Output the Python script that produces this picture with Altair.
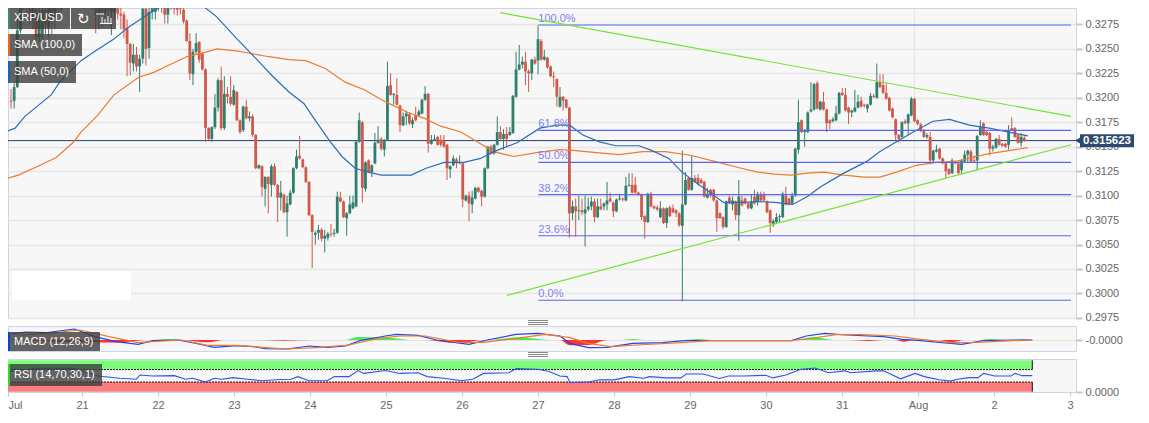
import altair as alt
import pandas as pd

# Hourly candles, (open, high, low, close) in 1e-4 USD. Hour 0 = 20 Jul 00:00
jul20 = [(3197,3209,3189,3196),(3197,3215,3189,3211),(3211,3280,3210,3269),(3269,3310,3266,3298),(3293,3320,3290,3305),(3305,3315,3285,3292),(3292,3305,3275,3280),(3280,3300,3270,3292),(3290,3295,3258,3262),(3262,3300,3257,3280),(3265,3305,3260,3290),(3290,3310,3265,3275),(3272,3310,3262,3295),(3295,3310,3265,3280),(3280,3315,3270,3300),(3300,3310,3285,3295),(3290,3305,3288,3300),(3306,3315,3300,3310),(3310,3320,3302,3305),(3305,3318,3300,3312),(3312,3322,3303,3308),(3308,3320,3301,3315),(3315,3325,3305,3310),(3310,3322,3303,3316)]
jul21 = [(3316,3325,3304,3308),(3308,3318,3302,3312),(3312,3320,3290,3297),(3298,3310,3266,3284),(3284,3310,3270,3298),(3298,3305,3272,3287),(3287,3305,3275,3296),(3296,3303,3278,3290),(3288,3303,3264,3297),(3288,3300,3280,3296),(3296,3299,3280,3286),(3286,3295,3270,3284),(3285,3288,3261,3270),(3271,3280,3222,3255),(3255,3256,3223,3236),(3235,3255,3227,3244),(3244,3252,3227,3232),(3232,3244,3206,3240),(3240,3298,3235,3291),(3291,3295,3233,3250),(3251,3294,3240,3288),(3288,3310,3280,3302),(3288,3302,3280,3298),(3300,3305,3289,3297)]
jul22 = [(3298,3302,3287,3293),(3295,3298,3276,3285),(3285,3300,3276,3297),(3296,3300,3290,3298),(3295,3300,3285,3291),(3295,3298,3284,3290),(3294,3297,3285,3291),(3290,3292,3276,3278),(3279,3280,3257,3258),(3258,3266,3218,3225),(3224,3250,3213,3247),(3247,3266,3245,3256),(3257,3258,3236,3239),(3245,3247,3228,3229),(3229,3230,3155,3169),(3169,3170,3157,3158),(3158,3171,3155,3170),(3170,3204,3168,3190),(3190,3220,3186,3218),(3218,3232,3167,3169),(3169,3222,3167,3204),(3204,3211,3194,3201),(3201,3222,3192,3194),(3193,3213,3192,3208)]
jul23 = [(3206,3207,3176,3177),(3177,3178,3163,3165),(3167,3192,3165,3191),(3191,3198,3178,3179),(3179,3186,3176,3181),(3181,3183,3160,3162),(3162,3163,3127,3128),(3128,3132,3127,3131),(3130,3131,3099,3109),(3107,3120,3089,3119),(3119,3120,3082,3112),(3111,3132,3099,3130),(3130,3133,3110,3111),(3111,3112,3073,3098),(3098,3115,3085,3103),(3101,3102,3082,3083),(3083,3100,3058,3092),(3091,3106,3090,3103),(3103,3129,3102,3128),(3128,3147,3127,3140),(3141,3161,3137,3138),(3137,3138,3128,3129),(3129,3130,3113,3114),(3114,3115,3079,3080)]
jul24 = [(3080,3081,3026,3063),(3060,3064,3050,3062),(3062,3070,3055,3065),(3065,3067,3053,3056),(3056,3065,3042,3059),(3057,3063,3054,3061),(3061,3071,3058,3060),(3061,3066,3058,3062),(3062,3104,3061,3099),(3098,3104,3093,3094),(3094,3095,3077,3078),(3077,3083,3059,3082),(3082,3100,3081,3091),(3087,3100,3086,3093),(3089,3156,3088,3155),(3155,3185,3154,3177),(3175,3176,3093,3108),(3107,3135,3104,3134),(3136,3137,3123,3124),(3124,3132,3119,3131),(3133,3164,3132,3154),(3154,3171,3153,3157),(3158,3160,3146,3148),(3147,3158,3140,3157)]
jul25 = [(3157,3237,3156,3212),(3213,3225,3202,3203),(3203,3205,3193,3204),(3203,3220,3192,3193),(3192,3193,3165,3172),(3172,3185,3171,3181),(3181,3187,3172,3184),(3183,3185,3172,3174),(3173,3180,3169,3177),(3182,3191,3176,3177),(3182,3188,3181,3186),(3184,3199,3183,3198),(3198,3212,3197,3204),(3204,3205,3144,3153),(3153,3162,3152,3157),(3157,3162,3156,3158),(3160,3161,3151,3152),(3157,3162,3150,3152),(3157,3162,3149,3150),(3152,3153,3116,3128),(3127,3131,3118,3130),(3131,3141,3130,3138),(3137,3139,3128,3133),(3133,3141,3132,3134)]
jul26 = [(3133,3134,3088,3096),(3095,3101,3094,3100),(3100,3104,3074,3092),(3091,3105,3082,3098),(3097,3109,3096,3108),(3108,3109,3103,3104),(3105,3106,3089,3099),(3099,3129,3098,3128),(3128,3151,3127,3150),(3150,3152,3142,3143),(3143,3153,3142,3152),(3152,3181,3151,3165),(3165,3171,3157,3158),(3158,3168,3147,3163),(3163,3170,3150,3158),(3162,3170,3161,3165),(3164,3203,3163,3202),(3201,3247,3200,3229),(3229,3254,3228,3234),(3234,3242,3230,3237),(3237,3247,3213,3227),(3227,3229,3206,3225),(3225,3240,3218,3239),(3239,3242,3234,3235)]
jul27 = [(3238,3274,3224,3260),(3258,3260,3238,3239),(3239,3249,3238,3242),(3241,3242,3230,3231),(3232,3233,3221,3222),(3222,3227,3211,3221),(3219,3220,3191,3201),(3191,3211,3190,3201),(3201,3202,3187,3197),(3198,3199,3189,3190),(3190,3191,3057,3082),(3082,3095,3075,3089),(3089,3097,3058,3084),(3084,3100,3075,3085),(3085,3097,3080,3083),(3082,3100,3048,3086),(3086,3098,3084,3089),(3089,3099,3085,3094),(3094,3097,3073,3078),(3078,3097,3077,3089),(3089,3097,3085,3086),(3089,3093,3085,3092),(3091,3114,3085,3095),(3097,3103,3093,3094)]
jul28 = [(3093,3094,3078,3084),(3084,3097,3083,3096),(3096,3102,3095,3097),(3097,3098,3094,3096),(3095,3119,3094,3110),(3110,3123,3109,3111),(3111,3123,3102,3103),(3111,3119,3102,3103),(3103,3104,3100,3101),(3101,3102,3075,3078),(3079,3080,3056,3073),(3073,3103,3072,3102),(3102,3104,3088,3089),(3089,3090,3086,3087),(3088,3090,3084,3086),(3078,3094,3077,3087),(3087,3088,3071,3072),(3072,3088,3067,3087),(3088,3090,3078,3079),(3087,3091,3082,3083),(3085,3086,3078,3082),(3082,3083,3068,3070),(3069,3146,2992,3091),(3091,3124,3090,3116)]
jul29 = [(3118,3119,3105,3106),(3106,3141,3105,3118),(3118,3121,3113,3114),(3118,3122,3110,3112),(3116,3118,3112,3113),(3114,3115,3098,3099),(3098,3108,3097,3102),(3106,3107,3098,3100),(3106,3107,3094,3095),(3095,3096,3063,3077),(3082,3083,3076,3077),(3078,3079,3066,3068),(3068,3095,3067,3094),(3098,3100,3091,3092),(3091,3099,3085,3095),(3094,3095,3075,3080),(3080,3116,3054,3099),(3095,3100,3089,3090),(3097,3098,3091,3092),(3092,3093,3086,3087),(3087,3101,3086,3094),(3099,3106,3091,3092),(3094,3104,3090,3102),(3101,3104,3094,3095)]
jul30 = [(3101,3104,3094,3095),(3094,3095,3082,3083),(3085,3086,3062,3072),(3071,3076,3068,3074),(3073,3082,3072,3078),(3078,3081,3072,3079),(3078,3104,3077,3102),(3100,3109,3090,3091),(3097,3098,3090,3091),(3092,3103,3091,3100),(3100,3149,3099,3148),(3147,3198,3143,3175),(3177,3178,3164,3165),(3165,3168,3150,3167),(3165,3186,3164,3185),(3186,3216,3185,3188),(3188,3215,3187,3214),(3215,3217,3188,3189),(3188,3197,3187,3196),(3196,3206,3187,3188),(3188,3189,3165,3174),(3177,3178,3168,3174),(3176,3180,3175,3178),(3177,3192,3176,3184)]
jul31 = [(3184,3206,3183,3205),(3205,3210,3202,3203),(3203,3210,3186,3187),(3190,3191,3173,3185),(3185,3188,3180,3187),(3186,3208,3185,3190),(3190,3203,3189,3196),(3197,3201,3190,3191),(3193,3194,3190,3192),(3189,3194,3185,3193),(3193,3205,3192,3202),(3202,3204,3200,3201),(3200,3235,3199,3216),(3216,3224,3210,3211),(3213,3224,3204,3205),(3205,3215,3198,3199),(3200,3201,3186,3187),(3189,3190,3179,3180),(3178,3179,3157,3162),(3162,3163,3154,3158),(3160,3176,3159,3175),(3176,3178,3173,3174),(3174,3184,3162,3183),(3182,3201,3181,3199)]
aug01 = [(3199,3200,3175,3176),(3177,3178,3172,3173),(3173,3174,3165,3167),(3167,3168,3159,3160),(3160,3164,3158,3162),(3160,3165,3132,3136),(3136,3147,3133,3146),(3145,3152,3144,3147),(3148,3149,3137,3138),(3138,3139,3132,3133),(3133,3134,3118,3125),(3127,3128,3121,3122),(3123,3138,3122,3136),(3134,3136,3132,3133),(3133,3134,3122,3123),(3126,3137,3122,3136),(3135,3146,3134,3142),(3142,3147,3134,3146),(3145,3147,3134,3135),(3136,3141,3134,3135),(3136,3162,3126,3161),(3162,3177,3161,3170),(3174,3175,3161,3162),(3165,3166,3161,3162)]
aug02 = [(3164,3165,3141,3148),(3148,3152,3145,3150),(3149,3159,3148,3158),(3158,3162,3151,3152),(3153,3154,3150,3151),(3153,3154,3149,3150),(3152,3172,3147,3166),(3169,3180,3166,3167),(3169,3170,3159,3160),(3162,3163,3153,3154),(3154,3164,3150,3160),(3159,3162,3155,3156),(3156,3157,3156,3156)]

sma50_h = [-1.9,1.3,4.4,8.6,12.8,15.5,22.3,26.5,32.8,37,43.4,48.6,53.9,60.7,65.5,71.8,78.1,83.4,88.6,93.4,97,101.8,105.5,109.7,113.9,118.1,122.3,127.6,132.3,138.1,144.4,149.7,153.9,161.3,168.6,173.9,178.1,182.3,187.6,192.8,200.2,204.4,209.7,213.9,218.1,223.4,227.1,233.9,238.1,243.4,249.2,253.9,258.1,265.5,272.8,277,282.3,287.6,293.9,299.2,305.5,311.8,318.1,324.1]
sma50_v = [3165,3169,3181,3192,3203,3216,3238,3247,3260,3271,3285,3295,3297,3295,3283,3261,3240,3222,3206,3194,3177,3155,3140,3128,3124,3121,3121,3121,3128,3134,3134,3138,3145,3154,3169,3172,3172,3162,3155,3151,3151,3146,3138,3124,3114,3102,3093,3093,3094,3093,3091,3099,3109,3123,3135,3145,3155,3165,3176,3178,3172,3169,3165,3161]
sma100_h = [-1.9,2.3,8.6,14.4,19.7,22.3,27.6,32.8,40.7,45.5,50.7,56,61.3,65.5,71.8,77,82.3,88.6,93.9,100.2,106.5,112.8,118.1,121.3,126.5,131.8,137,143.4,148.6,153.9,160.2,167.6,174.9,180.2,186.5,193.9,201.3,208.6,217,225.5,232.8,238.1,243.4,248.6,253.9,259.2,265.5,271.8,277,282.3,288.6,295,301.3,307.6,311.8,318.1,324.1]
sma100_v = [3117,3121,3130,3139,3154,3165,3182,3203,3221,3226,3234,3242,3246,3250,3248,3245,3242,3239,3238,3230,3216,3208,3198,3193,3185,3179,3171,3165,3155,3145,3140,3144,3147,3146,3144,3142,3145,3145,3141,3134,3128,3124,3122,3121,3123,3124,3121,3119,3119,3124,3131,3134,3135,3140,3143,3146,3149]

fib_levels = [3274.4,3166.7,3134.0,3101.0,3059.0,2993.0]
fib_names = ["100.0%","61.8%","50.0%","38.2%","23.6%","0.0%"]
fib_start, chart_end, last_hour = 168.1, 337.9, 324.1
trend_hours = [156.0,337.9]
trend_upper = [3287,3181]
trend_lower_hours = [158.1,337.9]
trend_lower = [2998,3152]
last_price = 0.315623
price_ticks = [0.2975,0.3,0.3025,0.305,0.3075,0.31,0.3125,0.315,0.3175,0.32,0.3225,0.325,0.3275]

macd_blue_h = [1.5,6.1,13,21.6,28,34.8,41.7,46.3,54.4,60.1,65.8,72.7,78.5,81.9,88.8,95.7,101.4,107.2,111.8,119.8,123.2,130.1,135.9,146.2,152,161.1,168,174.9,178.1,183.9,189.8,197.9,207.3,214.2,222.4,232.9,248.1,252.7,258.6,265.6,277.2,283.1,288.9,301.7,308.7,318,324.1]
macd_blue_v = [18,24,22,33,10,-5,-13,-2,0,-10,-22,-17,-20,-26,-27,-18,-22,-18,-2,12,17,14,0,-13,0,17,20,12,-10,-23,-22,-10,-8,-2,-2,-2,-2,12,20,15,10,2,-2,-13,-2,0,0]
macd_orange_h = [5,13,23.4,32.5,41.7,46.3,55.5,63.5,72.7,80.8,88.8,99.1,108.3,117.5,124.4,132.4,142.8,150.8,161.1,170.3,178.1,183.9,190.9,199.1,213.1,222.4,248.1,255.1,262.1,270.2,280.7,288.9,298.2,306.4,318,324.1]
macd_orange_v = [15,20,30,10,-8,-5,0,-16,-16,-22,-27,-22,-15,5,12,12,-7,-7,5,17,7,-10,-20,-15,-8,-2,-2,6,16,16,12,2,-8,-7,-2,0]
hist_h = [1,3,5,15,25.7,36,44,46.3,50.9,55.5,63.5,69,78.5,87.7,96.8,107.2,111,122,127.8,132.4,142.8,150.8,152,162,171.5,175,178,184,190,194.4,198,201.4,214.2,218.3,223,249.2,255,261.5,266.7,272.5,277,280.7,283.6,286.5,294.7,298,302.9,307.5,311,315.1,318.6,321,324]
hist_v = [0,3,0,-5,-6,-8,0,0,3,0,-7,0,0,-2,0,0,9,6,0,0,-10,0,0,8,0,0,-16,-15,0,0,3,0,0,3,0,0,9,0,0,-3,0,0,-5,0,0,-7,0,0,3,0,0,2,0]

rsi_h = [0.7,1.5,9.6,21,29,36,41.2,42.3,46.3,53.2,56.7,59,63,65.8,68.1,71.6,76.2,80.8,86.5,90,92.2,95.7,101.4,103.7,108.3,111.2,112.9,119.8,124.4,130.1,133,138.2,143.9,147.4,150.8,158.8,161.1,168,171.5,174.9,177.2,178.1,183.9,187.4,192.1,196.8,201.4,203.2,208.4,213.1,214.8,220.1,225.3,228.2,232.9,239.9,242.2,246.3,251,255.6,259.7,265,266.7,274.9,277.2,282.5,287.1,290,294.7,298.2,300.5,304,307,308.7,312.2,317.4,318.6,320.9,324.1]
rsi_v = [58,64,74,74,50,43,40,53,50,51,40,43,31,43,40,45,40,35,39,40,48,35,35,48,48,67,58,67,58,60,48,43,35,40,58,60,73,71,64,50,48,29,31,38,38,48,43,48,44,44,56,56,42,50,50,52,44,53,71,75,60,66,60,66,66,41,58,48,38,34,40,45,45,58,50,50,58,51,51]

day_labels = ["Jul","21","22","23","24","25","26","27","28","29","30","31","Aug","2","3"]

GREEN, RED = "#2f7f6d", "#d0594a"
FONT = "Liberation Sans"
candles = jul20+jul21+jul22+jul23+jul24+jul25+jul26+jul27+jul28+jul29+jul30+jul31+aug01+aug02
cdf = pd.DataFrame(candles, columns=["o","h","l","c"]) / 1e4
cdf["t"] = range(len(cdf))
cdf["color"] = [GREEN if c >= o else RED for o, c in zip(cdf.o, cdf.c)]
cdf["top"] = cdf[["o","c"]].max(axis=1)
cdf["bot"] = cdf[["o","c"]].min(axis=1)

xscale = alt.Scale(domain=[0.63, 337.9], nice=False, zero=False)
def X(f="t"):
    return alt.X(f, type="quantitative", scale=xscale, axis=None, title=None)

price_scale = alt.Scale(domain=[0.29749, 0.32918], nice=False, zero=False)
price_axis = alt.Axis(orient="right", values=price_ticks, format=".4f", domain=False, grid=True,
                      gridColor="#e6e6e6", gridWidth=1.5, tickColor="#c4c4c4", tickWidth=2, tickSize=6,
                      labelColor="#666666", labelFont=FONT, labelFontSize=11, labelPadding=3, title=None)
def P(f):
    return alt.Y(f, type="quantitative", scale=price_scale, axis=price_axis, title=None)

one = pd.DataFrame({"k":[0]})
def box(x0, x1, y0, y1, color, opacity=1.0, top=8):
    return alt.Chart(one).mark_rect(color=color, opacity=opacity).encode(
        x=alt.value(x0-8), x2=alt.value(x1-8), y=alt.value(y0-top), y2=alt.value(y1-top))
def label(txt, x, y, size=11, color="#ffffff", top=8, font=FONT):
    return alt.Chart(pd.DataFrame({"s":[txt]})).mark_text(align="left", baseline="middle", font=font, fontSize=size, color=color).encode(
        x=alt.value(x-8), y=alt.value(y-top), text="s:N")
def hline(x0, x1, y, color="#ffffff", w=1, top=8):
    return alt.Chart(one).mark_rule(color=color, strokeWidth=w).encode(
        x=alt.value(x0-8), x2=alt.value(x1-8), y=alt.value(y-top))
def vline(x, y0, y1, color="#ffffff", w=1, top=8):
    return alt.Chart(one).mark_rule(color=color, strokeWidth=w).encode(
        x=alt.value(x-8), y=alt.value(y0-top), y2=alt.value(y1-top))

aug_line = alt.Chart(pd.DataFrame({"t":[288]})).mark_rule(color="#e4e4e4", strokeWidth=1).encode(X())
wicks = alt.Chart(cdf).mark_rule(strokeWidth=1, clip=True).encode(X(), P("l"), y2="h", color=alt.Color("color:N", scale=None))
bodies = alt.Chart(cdf).mark_bar(size=2.8, clip=True).encode(X(), P("bot"), y2="top", color=alt.Color("color:N", scale=None))

sdf50 = pd.DataFrame({"t":sma50_h,"p":[v/1e4 for v in sma50_v]})
sdf100 = pd.DataFrame({"t":sma100_h,"p":[v/1e4 for v in sma100_v]})
line50 = alt.Chart(sdf50).mark_line(color="#2b6cb8", strokeWidth=1.2, clip=True).encode(X(), P("p"))
line100 = alt.Chart(sdf100).mark_line(color="#ee7a2c", strokeWidth=1.2, clip=True).encode(X(), P("p"))

fibdf = pd.DataFrame({"t":[fib_start]*6,"t2":[chart_end]*6,"p":[v/1e4 for v in fib_levels],"n":fib_names})
fib_rules = alt.Chart(fibdf).mark_rule(color="#5a66ee", strokeWidth=1.1).encode(X(), x2="t2", y=P("p"))
fib_text = alt.Chart(fibdf).mark_text(align="left", baseline="bottom", dy=-1, color="#7f7ff2", font=FONT, fontSize=11).encode(X(), P("p"), text="n:N")

tu = pd.DataFrame({"t":trend_hours,"p":[v/1e4 for v in trend_upper]})
tl = pd.DataFrame({"t":trend_lower_hours,"p":[v/1e4 for v in trend_lower]})
up = alt.Chart(tu).mark_line(color="#74e234", strokeWidth=1.2).encode(X(), P("p"))
lo = alt.Chart(tl).mark_line(color="#74e234", strokeWidth=1.2).encode(X(), P("p"))

lastdf = pd.DataFrame({"p":[last_price],"s":[f"{last_price:.6f}"]})
last_rule = alt.Chart(lastdf).mark_rule(color="#1f3f73", strokeWidth=1).encode(P("p"))
tag_color = "#2c4a70"
tag = alt.Chart(one).mark_rect(color=tag_color).encode(x=alt.value(1072), x2=alt.value(1126), y=alt.value(126.3), y2=alt.value(139.3))
tag_arrow = alt.Chart(lastdf).mark_point(shape="triangle-left", filled=True, color=tag_color, opacity=1, size=90).encode(x=alt.value(1071), y=P("p"))
tag_text = alt.Chart(lastdf).mark_text(align="center", baseline="middle", color="#ffffff", font=FONT, fontSize=11.5, fontWeight="bold").encode(x=alt.value(1099), y=P("p"), text="s:N")

overlay = alt.layer(
    box(12,131,271,300,"#ffffff"),
    box(8,70,8,29,"#3c3c3c",0.8), box(8,10,8,29,"#3a8a78"), label("XRP/USD",14,18,11),
    box(71,116,8,29,"#3c3c3c",0.8), label("\u21bb",77,19,15,font="DejaVu Sans"),
    hline(100,112,23.5), vline(102,17,23), vline(105,19,23), vline(108,16,23), vline(111,18,23), hline(96,104,14),
    box(8,82,34,56,"#3c3c3c",0.8), box(8,10,34,56,"#e8691a"), label("SMA (100,0)",14,45,11),
    box(8,76,61,83,"#3c3c3c",0.8), box(8,10,61,83,"#1f5fc0"), label("SMA (50,0)",14,72,11),
)

main = alt.layer(aug_line, last_rule, wicks, bodies, line100, line50, fib_rules, fib_text, up, lo,
                 overlay, tag, tag_arrow, tag_text).properties(width=1068, height=310)

# MACD
macd_scale = alt.Scale(domain=[-33, 42], nice=False, zero=False)
macd_axis = alt.Axis(orient="right", values=[0], labelExpr="'-0.0000'", domain=False, grid=True, gridColor="#e2e2e2",
                     tickColor="#c4c4c4", tickWidth=2, tickSize=6, labelColor="#666666", labelFont=FONT, labelFontSize=11, labelPadding=3, title=None)
def M(f):
    return alt.Y(f, type="quantitative", scale=macd_scale, axis=macd_axis, title=None)
hdf = pd.DataFrame({"t":hist_h,"v":hist_v})
hdf["pos"] = hdf.v.clip(lower=0)
hdf["neg"] = hdf.v.clip(upper=0)
hist_pos = alt.Chart(hdf).mark_area(color="#2fe62f", opacity=0.85, interpolate="monotone").encode(X(), M("pos"))
hist_neg = alt.Chart(hdf).mark_area(color="#ff1010", opacity=0.85, interpolate="monotone").encode(X(), M("neg"))
mb = alt.Chart(pd.DataFrame({"t":macd_blue_h,"v":macd_blue_v})).mark_line(color="#2244ee", strokeWidth=1.2).encode(X(), M("v"))
mo = alt.Chart(pd.DataFrame({"t":macd_orange_h,"v":macd_orange_v})).mark_line(color="#f07a2a", strokeWidth=1.2).encode(X(), M("v"))
macd = alt.layer(
    hist_pos, hist_neg, mb, mo,
    box(8,100,332,351,"#3c3c3c",0.8,top=326), box(8,10,332,351,"#1040e0",1,top=326), label("MACD (12,26,9)",14,342,11,top=326),
    hline(528,548,320.5,"#888888",1,top=326), hline(528,548,322.5,"#888888",1,top=326), hline(528,548,324.5,"#888888",1,top=326),
).properties(width=1068, height=25)

# RSI
rsi_scale = alt.Scale(domain=[0, 103], nice=False, zero=False)
rsi_axis = alt.Axis(orient="right", values=[0], labelExpr="'0.0000'", domain=False, grid=False,
                    tickColor="#c4c4c4", tickWidth=2, tickSize=6, labelColor="#666666", labelFont=FONT, labelFontSize=11, labelPadding=3, title=None)
def R(f):
    return alt.Y(f, type="quantitative", scale=rsi_scale, axis=rsi_axis, title=None)
x_axis = alt.Axis(values=[24*i for i in range(1,15)]+[0.63], labelExpr="datum.value<1 ? 'Jul' : "+str(day_labels)+"[datum.value/24]",
                  labelAlign=alt.expr("datum.value<1 ? 'left' : 'center'"), domain=False, grid=False, tickColor="#c4c4c4", tickSize=4, tickWidth=1,
                  labelColor="#666666", labelFont=FONT, labelFontSize=11, labelPadding=3, title=None)
def XR(f="t"):
    return alt.X(f, type="quantitative", scale=xscale, axis=x_axis, title=None)
bands = pd.DataFrame({"t":[0.63,0.63],"t2":[last_hour,last_hour],"a":[70,1],"b":[99,31],"c":["#7dfb7d","#fd7d7d"]})
band = alt.Chart(bands).mark_rect().encode(XR(), x2="t2", y=R("a"), y2="b", color=alt.Color("c:N", scale=None))
bline = alt.Chart(pd.DataFrame({"t":[0.63,0.63],"t2":[last_hour,last_hour],"a":[70,31]})).mark_rule(color="#111111", strokeWidth=1, strokeDash=[2,1]).encode(XR(), x2="t2", y=R("a"))
bend = alt.Chart(bands).mark_rule(color="#111111", strokeWidth=1).encode(x=XR("t2"), y=R("a"), y2="b")
rline = alt.Chart(pd.DataFrame({"t":rsi_h,"v":rsi_v})).mark_line(color="#2f55ea", strokeWidth=1.1).encode(XR(), R("v"))
rsi = alt.layer(
    band, bline, bend, rline,
    box(8,102,364,386,"#3c3c3c",0.8,top=359), box(8,10,364,386,"#20e020",1,top=359), label("RSI (14,70,30,1)",14,375,11,top=359),
    hline(528,548,352.5,"#888888",1,top=359), hline(528,548,354.5,"#888888",1,top=359), hline(528,548,356.5,"#888888",1,top=359),
).properties(width=1068, height=33)

chart = alt.vconcat(main, macd, rsi, spacing=8, bounds="flush").resolve_scale(x="independent", y="independent").properties(
    padding={"left": -3, "top": -1, "right": 0, "bottom": 0}, background="#ffffff"
).configure_view(stroke="#ccd3ea", strokeWidth=1, fill="#f7f7f7")
chart.save("out.html", embed_options={"renderer": "svg", "actions": False})
